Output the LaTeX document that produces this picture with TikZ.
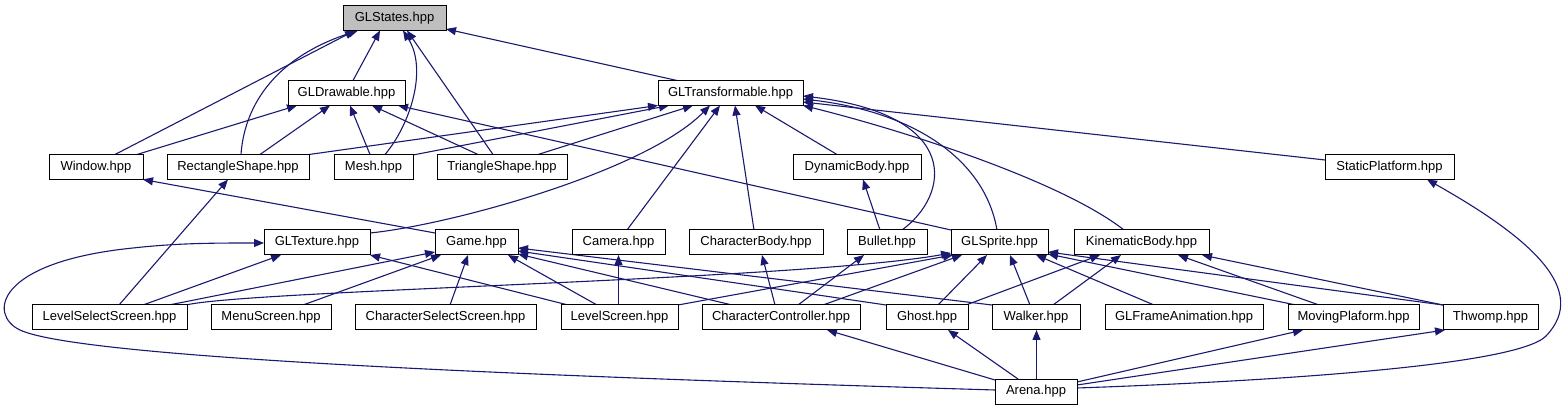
\documentclass[tikz,border=0pt]{standalone}
\usepackage{fontspec}
\setmainfont{Liberation Sans}
\usetikzlibrary{arrows.meta}
\definecolor{edgeblue}{HTML}{191970}
\definecolor{rootgray}{HTML}{BFBFBF}
\pgfdeclarelayer{bg}
\pgfsetlayers{bg,main}
\begin{document}
\begin{tikzpicture}[x=1pt,y=-1pt,
  box/.style={draw=black,line width=1pt,fill=white,inner sep=0pt,outer sep=0pt,
              minimum height=25pt,font=\fontsize{13}{15}\selectfont},
  dep/.style={draw=edgeblue,line width=1.1pt,-{Triangle[length=10pt,width=8pt]}}]
\useasboundingbox (0,0) rectangle (1568,411);
% row 1
\node[box,fill=rootgray,minimum width=103pt] (st) at (394.5,18) {GLStates.hpp};
% row 2
\node[box,minimum width=117pt] (dr) at (346.5,93) {GLDrawable.hpp};
\node[box,minimum width=145pt] (tf) at (730.5,93) {GLTransformable.hpp};
% row 3
\node[box,minimum width=94pt] (win) at (96,167) {Window.hpp};
\node[box,minimum width=142pt] (rect) at (238,167) {RectangleShape.hpp};
\node[box,minimum width=79pt] (mesh) at (373.5,167) {Mesh.hpp};
\node[box,minimum width=130pt] (tri) at (502,167) {TriangleShape.hpp};
\node[box,minimum width=128pt] (dyn) at (857,167) {DynamicBody.hpp};
\node[box,minimum width=129pt] (stp) at (1389.5,167) {StaticPlatform.hpp};
% row 4
\node[box,minimum width=106pt] (tex) at (317,242.5) {GLTexture.hpp};
\node[box,minimum width=83pt] (game) at (476.5,242.5) {Game.hpp};
\node[box,minimum width=93pt] (cam) at (618.5,242.5) {Camera.hpp};
\node[box,minimum width=134pt] (cb) at (756,242.5) {CharacterBody.hpp};
\node[box,minimum width=80pt] (bul) at (887,242.5) {Bullet.hpp};
\node[box,minimum width=97pt] (spr) at (999.5,242.5) {GLSprite.hpp};
\node[box,minimum width=135pt] (kin) at (1141.5,242.5) {KinematicBody.hpp};
% row 5
\node[box,minimum width=155pt] (lss) at (109.5,317.5) {LevelSelectScreen.hpp};
\node[box,minimum width=120pt] (menu) at (271,317.5) {MenuScreen.hpp};
\node[box,minimum width=181pt] (css) at (445.5,317.5) {CharacterSelectScreen.hpp};
\node[box,minimum width=117pt] (ls) at (619.5,317.5) {LevelScreen.hpp};
\node[box,minimum width=158pt] (cc) at (781,317.5) {CharacterController.hpp};
\node[box,minimum width=82pt] (gh) at (927,317.5) {Ghost.hpp};
\node[box,minimum width=88pt] (wk) at (1036,317.5) {Walker.hpp};
\node[box,minimum width=158pt] (gfa) at (1184,317.5) {GLFrameAnimation.hpp};
\node[box,minimum width=131pt] (mp) at (1353.5,317.5) {MovingPlaform.hpp};
\node[box,minimum width=95pt] (th) at (1490.5,317.5) {Thwomp.hpp};
% row 6
\node[box,minimum width=82pt] (ar) at (1036,391.5) {Arena.hpp};
% via points of the two long curves
\coordinate (viaR) at (1546,336);
\coordinate (viaL1) at (20,330);
\coordinate (viaL2) at (133,248);

\begin{pgfonlayer}{bg}
% into GLStates
\draw[dep] ([shift={(66,0)}]win.north west) -- ([shift={(12,25)}]st.north west);
\draw[dep] ([shift={(74,0)}]rect.north west) .. controls +(3,-44) and +(-88,29) .. ([shift={(15,25)}]st.north west);
\draw[dep] ([shift={(65,0)}]dr.north west) -- ([shift={(37,25)}]st.north west);
\draw[dep] ([shift={(51,0)}]mesh.north west) .. controls +(25,-29.5) and +(25,39) .. ([shift={(60,25)}]st.north west);
\draw[dep] ([shift={(56,0)}]tri.north west) -- ([shift={(64,25)}]st.north west);
\draw[dep] ([shift={(19,0)}]tf.north west) -- ([shift={(103,23.5)}]st.north west);
% into GLDrawable
\draw[dep] ([shift={(88,0)}]win.north west) -- ([shift={(9,25)}]dr.north west);
\draw[dep] ([shift={(93,0)}]rect.north west) -- ([shift={(42,25)}]dr.north west);
\draw[dep] ([shift={(36,0)}]mesh.north west) -- ([shift={(62,25)}]dr.north west);
\draw[dep] ([shift={(41,0)}]tri.north west) -- ([shift={(84,25)}]dr.north west);
\draw[dep] ([shift={(0,0)}]spr.north west) -- ([shift={(110,25)}]dr.north west);
% into GLTransformable
\draw[dep] ([shift={(142,0)}]rect.north west) -- ([shift={(0,25)}]tf.north west);
\draw[dep] ([shift={(79,0.5)}]mesh.north west) -- ([shift={(11,25)}]tf.north west);
\draw[dep] ([shift={(101,0)}]tri.north west) -- ([shift={(35,25)}]tf.north west);
\draw[dep] ([shift={(106,3)}]tex.north west) .. controls +(80,-8) and +(-65,66) .. ([shift={(52,25)}]tf.north west);
\draw[dep] ([shift={(55,0)}]cam.north west) -- ([shift={(62,25)}]tf.north west);
\draw[dep] ([shift={(65,0)}]cb.north west) -- ([shift={(77,25)}]tf.north west);
\draw[dep] ([shift={(44,0)}]dyn.north west) -- ([shift={(97,25)}]tf.north west);
\draw[dep] ([shift={(55,0)}]bul.north west) .. controls +(48,-35) and +(160,19) .. ([shift={(145,15.5)}]tf.north west);
\draw[dep] ([shift={(46,0)}]spr.north west) .. controls +(-12,-70) and +(112,13) .. ([shift={(145,18.5)}]tf.north west);
\draw[dep] ([shift={(50,0)}]kin.north west) .. controls +(-64,-50) and +(97,24) .. ([shift={(145,25)}]tf.north west);
\draw[dep] ([shift={(0,5.5)}]stp.north west) -- ([shift={(145,21.5)}]tf.north west);
% into Window, RectangleShape, DynamicBody
\draw[dep] ([shift={(0,3)}]game.north west) -- ([shift={(94,25)}]win.north west);
\draw[dep] ([shift={(87,0)}]lss.north west) -- ([shift={(61,25)}]rect.north west);
\draw[dep] ([shift={(33,0)}]bul.north west) -- ([shift={(70,25)}]dyn.north west);
% into StaticPlatform
\draw[dep] ([shift={(82,9)}]ar.north west) .. controls +(173,-6) and +(-30,31) .. (viaR)
  .. controls +(44,-46) and +(103,58) .. ([shift={(102,25)}]stp.north west);
% into GLTexture
\draw[dep] ([shift={(0,11)}]ar.north west) .. controls +(-400,-12) and +(64,30) .. (viaL1)
  .. controls +(-32,-15) and +(-138,14) .. (viaL2)
  .. controls +(45,-5) and +(-49,0) .. ([shift={(0,13)}]tex.north west);
\draw[dep] ([shift={(111,0)}]lss.north west) -- ([shift={(17,25)}]tex.north west);
\draw[dep] ([shift={(7,0)}]ls.north west) -- ([shift={(106,25)}]tex.north west);
% into Game
\draw[dep] ([shift={(137,0)}]lss.north west) -- ([shift={(0,22)}]game.north west);
\draw[dep] ([shift={(92,0)}]menu.north west) -- ([shift={(6,25)}]game.north west);
\draw[dep] ([shift={(95,0)}]css.north west) -- ([shift={(33,25)}]game.north west);
\draw[dep] ([shift={(36,0)}]ls.north west) -- ([shift={(73,25)}]game.north west);
\draw[dep] ([shift={(30,0)}]cc.north west) -- ([shift={(83,24)}]game.north west);
\draw[dep] ([shift={(0,0)}]gh.north west) -- ([shift={(83,21)}]game.north west);
\draw[dep] ([shift={(0,0)}]wk.north west) -- ([shift={(83,18)}]game.north west);
% into Camera, CharacterBody, Bullet
\draw[dep] ([shift={(57.5,0)}]ls.north west) -- ([shift={(46.5,25)}]cam.north west);
\draw[dep] ([shift={(73,0)}]cc.north west) -- ([shift={(73,25)}]cb.north west);
\draw[dep] ([shift={(96,0)}]cc.north west) -- ([shift={(17,25)}]bul.north west);
% into GLSprite
\draw[dep] ([shift={(154,0)}]lss.north west) .. controls +(64,-15) and +(-150,27) .. ([shift={(0,23)}]spr.north west);
\draw[dep] ([shift={(117,0)}]ls.north west) -- ([shift={(2,25)}]spr.north west);
\draw[dep] ([shift={(121,0)}]cc.north west) -- ([shift={(11,25)}]spr.north west);
\draw[dep] ([shift={(52,0)}]gh.north west) -- ([shift={(36,25)}]spr.north west);
\draw[dep] ([shift={(38,0)}]wk.north west) -- ([shift={(59,25)}]spr.north west);
\draw[dep] ([shift={(49,0)}]gfa.north west) -- ([shift={(85,25)}]spr.north west);
\draw[dep] ([shift={(8,0)}]mp.north west) -- ([shift={(97,24)}]spr.north west);
\draw[dep] ([shift={(0,0)}]th.north west) -- ([shift={(97,22)}]spr.north west);
% into KinematicBody
\draw[dep] ([shift={(80,0)}]gh.north west) -- ([shift={(26,25)}]kin.north west);
\draw[dep] ([shift={(61,0)}]wk.north west) -- ([shift={(47,25)}]kin.north west);
\draw[dep] ([shift={(31,0)}]mp.north west) -- ([shift={(104,25)}]kin.north west);
\draw[dep] ([shift={(0,0)}]th.north west) -- ([shift={(128,25)}]kin.north west);
% from Arena
\draw[dep] ([shift={(0,1)}]ar.north west) -- ([shift={(125,25)}]cc.north west);
\draw[dep] ([shift={(23,0)}]ar.north west) -- ([shift={(62,25)}]gh.north west);
\draw[dep] ([shift={(41.5,0)}]ar.north west) -- ([shift={(44.5,25)}]wk.north west);
\draw[dep] ([shift={(82,3)}]ar.north west) -- ([shift={(15,25)}]mp.north west);
\draw[dep] ([shift={(82,6)}]ar.north west) -- ([shift={(2,25)}]th.north west);
\end{pgfonlayer}
\end{tikzpicture}
\end{document}
